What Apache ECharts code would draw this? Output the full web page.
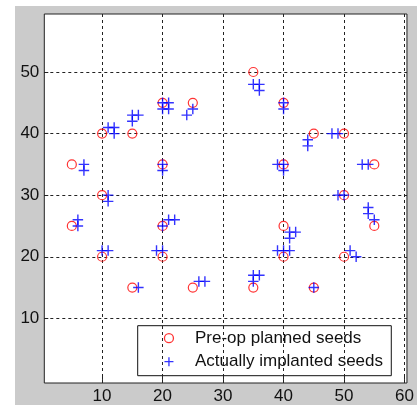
<!DOCTYPE html>
<html><head><meta charset="utf-8">
<script src="https://cdn.jsdelivr.net/npm/echarts@6/dist/echarts.min.js"></script>
<style>html,body{margin:0;padding:0;background:#fff}#c{width:417px;height:405px}</style>
</head><body><div id="c"></div>
<script>
const xTicks = [10, 20, 30, 40, 50, 60];
const yTicks = [10, 20, 30, 40, 50];
const seriesNames = ['Pre-op planned seeds', 'Actually implanted seeds'];
const plannedX = [5,10,15,20,25,35,40,45,50,5,10,20,40,50,55,10,20,20,40,40,50,55,15,25,35,45];
const plannedY = [35,40,40,45,45,50,45,40,40,25,30,35,35,30,35,20,25,20,25,20,20,25,15,15,15,15];
const actualX = [7,7,11,12,12,15,16,15,20,21,20,21,25,24,20,20,35,36,36,40,40,44,44,48,49,39,40,40,53,54,49,50,11,11,6,6,20,21,22,10,11,19,20,16,26,27,54,54,55,41,42,41,39,40,41,51,52,35,36,35,45];
const actualY = [35,34,41,41,40,43,43,42,45,45,44,44,44,43,35,34,48,48,47,45,44,39,38,40,40,35,35,34,35,35,30,30,30,29,26,25,25,26,26,21,21,21,21,15,16,16,28,27,26,24,24,23,21,21,21,21,20,17,17,16,15];

const planned = plannedX.map((x, i) => [x, plannedY[i]]);
const actual = actualX.map((x, i) => [x, actualY[i]]);
const FONT = 'Liberation Sans, Arial, sans-serif';

const chart = echarts.init(document.getElementById('c'), null, {renderer: 'canvas'});
chart.setOption({
  animation: false,
  backgroundColor: '#ffffff',
  graphic: [{
    type: 'rect', silent: true, z: -10,
    shape: {x: 15, y: 6, width: 402, height: 399},
    style: {fill: '#cbcbcb'}
  }],
  grid: {
    left: 44.3, top: 14, right: 3.7, bottom: 22,
    show: true, backgroundColor: '#ffffff', borderColor: '#222', borderWidth: 1
  },
  xAxis: {
    type: 'value', min: 0.45, max: 60.4,
    axisLine: {show: false},
    splitLine: {show: false},
    axisTick: {show: true, inside: true, length: 4, customValues: xTicks, lineStyle: {color: '#222'}},
    axisLabel: {customValues: xTicks, fontSize: 17, color: '#111', fontFamily: FONT, margin: 5}
  },
  yAxis: {
    type: 'value', min: -0.5, max: 59.42,
    axisLine: {show: false},
    splitLine: {show: false},
    axisTick: {show: true, inside: true, length: 4, customValues: yTicks, lineStyle: {color: '#222'}},
    axisLabel: {customValues: yTicks, fontSize: 17, color: '#111', fontFamily: FONT, margin: 5}
  },
  legend: {
    orient: 'vertical',
    left: 137.7, top: 325.7,
    padding: [4, 8.3, 5.5, 26.1],
    itemWidth: 9, itemHeight: 10, itemGap: 6.5,
    backgroundColor: '#ffffff', borderColor: '#111', borderWidth: 1,
    textStyle: {fontSize: 17, color: '#111', fontFamily: FONT, padding: [0, 0, 0, 16.5]},
    itemStyle: {borderWidth: 1.3},
    data: seriesNames
  },
  series: [
    {
      name: seriesNames[0], type: 'scatter', z: 10,
      symbol: 'circle', symbolSize: 9,
      itemStyle: {color: 'rgba(0,0,0,0)', borderColor: '#ff0000', borderWidth: 1.2},
      data: planned,
      markLine: {
        silent: true, symbol: 'none', animation: false,
        label: {show: false},
        emphasis: {disabled: true},
        lineStyle: {color: '#222', type: [3, 3], width: 1},
        data: xTicks.map(v => ({xAxis: v})).concat(yTicks.map(v => ({yAxis: v})))
      }
    },
    {
      name: seriesNames[1], type: 'scatter', z: 11,
      symbol: 'path://M0,5L10,5M5,0L5,10', symbolSize: 10.5,
      itemStyle: {color: 'rgba(0,0,0,0)', borderColor: '#0000ff', borderWidth: 1.4},
      data: actual
    }
  ]
});
</script></body></html>
